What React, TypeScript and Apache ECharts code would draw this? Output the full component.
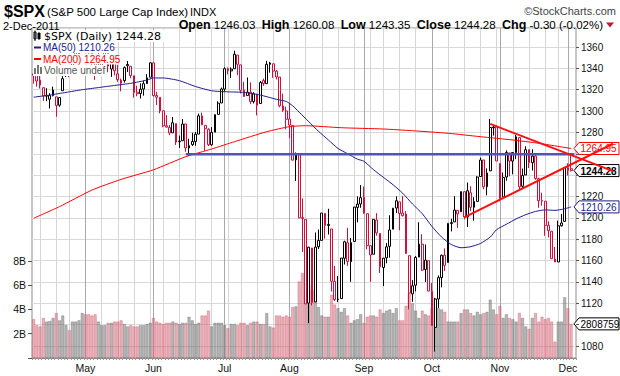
import React, { useEffect, useRef } from "react";
import * as echarts from "echarts";

// ---------- trading days (2011) ----------
const aprDays = [7, 8, 11, 12, 13, 14, 15, 18, 19, 20, 21, 25, 26, 27, 28, 29];
const mayDays = [2, 3, 4, 5, 6, 9, 10, 11, 12, 13, 16, 17, 18, 19, 20, 23, 24, 25, 26, 27, 31];
const junDays = [1, 2, 3, 6, 7, 8, 9, 10, 13, 14, 15, 16, 17, 20, 21, 22, 23, 24, 27, 28, 29, 30];
const julDays = [1, 5, 6, 7, 8, 11, 12, 13, 14, 15, 18, 19, 20, 21, 22, 25, 26, 27, 28, 29];
const augDays = [1, 2, 3, 4, 5, 8, 9, 10, 11, 12, 15, 16, 17, 18, 19, 22, 23, 24, 25, 26, 29, 30, 31];
const sepDays = [1, 2, 6, 7, 8, 9, 12, 13, 14, 15, 16, 19, 20, 21, 22, 23, 26, 27, 28, 29, 30];
const octDays = [3, 4, 5, 6, 7, 10, 11, 12, 13, 14, 17, 18, 19, 20, 21, 24, 25, 26, 27, 28, 31];
const novDays = [1, 2, 3, 4, 7, 8, 9, 10, 11, 14, 15, 16, 17, 18, 21, 22, 23, 25, 28, 29, 30];
const decDays = [1, 2];
const monthNames = ["Jan", "Feb", "Mar", "Apr", "May", "Jun", "Jul", "Aug", "Sep", "Oct", "Nov", "Dec"];

const priorClose = 1335.54;

// ---------- OHLC ----------
const opens = [
  1334.8, 1336.2, 1329.0, 1321.9, 1314.0, 1311.1, 1314.5, 1313.3, 1305.5, 1319.1, 1333.2, 1337.1, 1336.8, 1348.4, 1353.5, 1360.1,
  1365.2, 1360.2, 1355.9, 1344.2, 1340.2, 1340.2, 1348.3, 1354.5, 1339.4, 1348.7, 1334.8, 1326.1, 1328.5, 1342.4, 1342.0, 1333.1, 1317.7, 1316.4, 1320.6, 1325.7, 1331.7,
  1345.2, 1314.6, 1312.9, 1300.3, 1286.3, 1284.6, 1279.6, 1288.3, 1271.3, 1272.2, 1287.9, 1265.5, 1268.6, 1271.5, 1278.4, 1295.5, 1286.6, 1283.0, 1268.4, 1280.2, 1296.9, 1307.6,
  1320.6, 1339.6, 1337.6, 1339.6, 1352.4, 1343.3, 1319.6, 1314.5, 1317.7, 1308.9, 1315.9, 1307.1, 1328.7, 1325.7, 1343.8, 1344.3, 1337.4, 1331.9, 1304.8, 1300.1,
  1292.6, 1286.6, 1254.3, 1260.2, 1200.3, 1198.5, 1120.2, 1171.8, 1121.3, 1172.9, 1178.9, 1204.2, 1192.9, 1189.6, 1140.5, 1123.6, 1124.4, 1162.2, 1176.7, 1158.9, 1177.9, 1209.8, 1213.0,
  1219.1, 1203.9, 1173.97, 1165.9, 1197.98, 1185.4, 1153.5, 1162.6, 1173.3, 1189.4, 1209.2, 1214.99, 1204.5, 1203.6, 1164.6, 1128.8, 1136.9, 1163.3, 1175.4, 1151.7, 1159.9,
  1131.2, 1097.4, 1124.0, 1144.1, 1165.0, 1158.2, 1194.6, 1196.2, 1206.96, 1205.7, 1224.5, 1200.8, 1223.5, 1209.9, 1215.4, 1238.7, 1254.2, 1229.2, 1243.97, 1284.4, 1284.96,
  1251.0, 1219.6, 1238.3, 1260.8, 1253.2, 1261.1, 1275.2, 1229.6, 1240.1, 1263.9, 1251.7, 1257.8, 1236.6, 1216.2, 1215.6, 1192.98, 1187.5, 1161.4, 1158.7, 1192.6, 1196.7,
  1246.9, 1246.03,
];
const highs = [
  1339.4, 1339.5, 1333.8, 1321.9, 1321.4, 1316.8, 1322.9, 1313.3, 1312.7, 1332.7, 1337.5, 1337.6, 1349.6, 1357.5, 1361.7, 1364.6,
  1370.6, 1360.8, 1355.9, 1348.0, 1354.4, 1349.4, 1359.4, 1354.5, 1351.1, 1350.5, 1343.3, 1330.4, 1341.8, 1346.8, 1342.0, 1333.1, 1323.7, 1325.9, 1328.5, 1334.6, 1345.2,
  1345.2, 1318.0, 1312.9, 1300.3, 1296.2, 1287.0, 1294.5, 1288.3, 1277.0, 1292.5, 1287.9, 1274.1, 1279.8, 1280.4, 1297.6, 1298.6, 1286.8, 1283.9, 1284.9, 1296.8, 1309.2, 1322.0,
  1341.0, 1340.9, 1340.9, 1356.5, 1352.4, 1343.3, 1327.4, 1331.5, 1326.9, 1317.7, 1315.9, 1328.1, 1330.4, 1347.0, 1346.1, 1344.3, 1338.5, 1331.9, 1316.3, 1304.2,
  1307.4, 1286.6, 1261.2, 1260.2, 1218.1, 1198.5, 1172.9, 1171.8, 1186.3, 1189.0, 1204.5, 1204.2, 1208.5, 1189.6, 1154.9, 1145.5, 1162.4, 1178.6, 1190.7, 1181.2, 1210.3, 1220.1, 1230.7,
  1229.3, 1203.9, 1173.97, 1198.6, 1204.4, 1185.4, 1162.5, 1176.4, 1202.4, 1209.1, 1220.1, 1214.99, 1220.4, 1206.3, 1164.6, 1141.7, 1164.2, 1195.9, 1184.7, 1175.1, 1159.9,
  1138.99, 1125.1, 1146.1, 1165.6, 1171.4, 1194.9, 1199.2, 1220.3, 1207.5, 1224.6, 1224.5, 1233.1, 1229.6, 1219.4, 1239.0, 1256.5, 1254.2, 1246.3, 1292.7, 1287.1, 1284.96,
  1251.0, 1242.5, 1263.2, 1260.8, 1261.7, 1277.6, 1275.2, 1246.2, 1266.98, 1263.9, 1264.3, 1259.6, 1237.7, 1223.5, 1215.6, 1196.8, 1187.5, 1172.7, 1197.4, 1203.7, 1247.1,
  1251.1, 1260.08,
];
const lows = [
  1325.6, 1322.9, 1321.1, 1309.5, 1309.2, 1302.4, 1313.7, 1294.7, 1304.0, 1319.1, 1332.0, 1331.8, 1336.8, 1344.3, 1353.5, 1358.7,
  1358.6, 1349.5, 1341.5, 1329.2, 1335.6, 1338.6, 1348.3, 1336.4, 1332.0, 1333.4, 1327.3, 1318.5, 1326.6, 1336.6, 1330.7, 1312.6, 1313.9, 1311.8, 1314.4, 1325.7, 1331.7,
  1313.7, 1305.6, 1297.9, 1284.9, 1284.7, 1277.5, 1279.6, 1268.3, 1265.6, 1272.2, 1261.9, 1258.1, 1267.4, 1267.6, 1278.4, 1286.8, 1262.9, 1267.2, 1267.5, 1280.2, 1296.9, 1307.6,
  1318.3, 1334.3, 1330.9, 1339.6, 1333.7, 1316.4, 1313.3, 1314.5, 1306.5, 1307.1, 1295.9, 1307.1, 1323.6, 1325.7, 1336.0, 1331.1, 1329.6, 1303.5, 1299.2, 1282.9,
  1274.7, 1254.0, 1234.6, 1199.5, 1168.1, 1119.3, 1101.5, 1118.0, 1121.3, 1170.7, 1178.9, 1180.5, 1184.4, 1131.0, 1122.1, 1121.1, 1124.4, 1156.3, 1155.1, 1140.1, 1177.9, 1195.8, 1209.4,
  1203.9, 1170.6, 1140.1, 1165.9, 1183.3, 1148.4, 1136.1, 1157.4, 1162.7, 1189.4, 1204.5, 1188.4, 1201.3, 1166.2, 1114.2, 1121.4, 1131.1, 1163.3, 1150.3, 1139.9, 1131.3,
  1098.9, 1074.8, 1115.7, 1134.9, 1150.3, 1158.2, 1187.3, 1196.2, 1190.6, 1205.7, 1198.6, 1191.5, 1206.3, 1197.3, 1215.4, 1238.7, 1226.8, 1221.1, 1243.97, 1277.0, 1253.2,
  1215.4, 1219.6, 1234.8, 1238.9, 1240.8, 1254.99, 1226.6, 1227.7, 1240.1, 1246.7, 1244.3, 1235.7, 1209.4, 1211.4, 1183.2, 1181.7, 1161.8, 1158.7, 1158.7, 1191.8, 1196.7,
  1239.7, 1243.35,
];
const closes = [
  1333.51, 1328.17, 1324.46, 1314.16, 1314.41, 1314.52, 1319.68, 1305.14, 1312.62, 1330.36, 1337.38, 1335.25, 1347.24, 1355.66, 1360.48, 1363.61,
  1361.22, 1356.62, 1347.32, 1335.1, 1340.2, 1346.29, 1357.16, 1342.08, 1348.65, 1337.77, 1329.47, 1328.98, 1340.68, 1343.6, 1333.27, 1317.37, 1316.28, 1320.47, 1325.69, 1331.1, 1345.2,
  1314.55, 1312.94, 1300.16, 1286.17, 1284.94, 1279.56, 1289.0, 1270.98, 1271.83, 1287.87, 1265.42, 1267.64, 1271.5, 1278.36, 1295.52, 1287.14, 1283.5, 1268.45, 1280.1, 1296.67, 1307.41, 1320.64,
  1339.67, 1337.88, 1339.22, 1353.22, 1343.8, 1319.49, 1313.64, 1317.72, 1308.87, 1316.14, 1305.44, 1326.73, 1325.84, 1343.8, 1345.02, 1337.43, 1331.94, 1304.89, 1300.67, 1292.28,
  1286.94, 1254.05, 1260.34, 1200.07, 1199.38, 1119.46, 1172.53, 1120.76, 1172.64, 1178.81, 1204.49, 1192.76, 1193.89, 1140.65, 1123.53, 1123.82, 1162.35, 1177.6, 1159.27, 1176.8, 1210.08, 1212.92, 1218.89,
  1204.42, 1173.97, 1165.24, 1198.62, 1185.9, 1154.23, 1162.27, 1172.87, 1188.68, 1209.11, 1216.01, 1204.09, 1202.09, 1166.76, 1129.56, 1136.43, 1162.95, 1175.38, 1151.06, 1160.4, 1131.42,
  1099.23, 1123.95, 1144.03, 1164.97, 1155.46, 1194.89, 1195.54, 1207.25, 1203.66, 1224.58, 1200.86, 1225.38, 1209.88, 1215.39, 1238.25, 1254.19, 1229.05, 1242.0, 1284.59, 1285.09, 1253.3,
  1218.28, 1237.9, 1261.15, 1253.23, 1261.12, 1275.92, 1229.1, 1239.7, 1263.85, 1251.78, 1257.81, 1236.91, 1216.13, 1215.65, 1192.98, 1188.04, 1161.79, 1158.67, 1192.55, 1195.19, 1246.96,
  1244.58, 1244.28,
];

// ---------- volume (billions) ----------
const volumes = [
  3.2, 2.7, 2.6, 3.3, 3.0, 3.05, 3.3, 3.7, 3.1, 3.5, 2.7, 2.3, 3.0, 3.0, 3.1, 3.7,
  3.6, 3.6, 3.5, 3.6, 3.0, 2.7, 2.7, 2.9, 2.9, 3.0, 3.0, 3.1, 2.8, 2.6, 2.7, 2.6, 2.6, 2.7, 2.7, 2.8, 2.9,
  3.3, 3.0, 2.9, 2.8, 2.9, 2.9, 3.0, 2.9, 2.8, 2.9, 2.9, 3.4, 3.1, 2.8, 2.9, 3.5, 3.5, 3.9, 2.6, 2.9, 2.9, 2.9,
  2.7, 2.45, 2.8, 2.8, 2.7, 2.9, 2.9, 2.7, 2.9, 3.0, 3.0, 2.8, 2.8, 3.7, 2.6, 2.5, 3.5, 3.5, 3.4, 3.5,
  3.4, 4.2, 4.25, 6.3, 7.0, 6.8, 6.0, 5.6, 5.4, 4.2, 3.5, 3.4, 3.4, 5.2, 4.4, 4.1, 3.8, 4.1, 3.5, 2.9, 3.1, 3.2, 3.6,
  2.9, 3.4, 3.5, 3.5, 3.4, 4.0, 3.7, 3.9, 4.0, 3.7, 4.1, 3.1, 3.1, 4.3, 5.3, 4.5, 3.9, 3.3, 3.9, 3.6, 3.5,
  4.1, 4.9, 4.1, 4.0, 3.8, 3.0, 3.0, 3.0, 3.0, 3.7, 4.0, 4.0, 3.7, 3.5, 3.8, 3.6, 3.7, 3.8, 4.8, 4.0, 3.6,
  4.3, 3.3, 3.6, 3.3, 3.2, 3.0, 3.7, 3.3, 2.6, 2.4, 3.3, 3.7, 3.0, 3.4, 3.2, 3.3, 3.0, 1.35, 3.0, 3.0, 5.0,
  4.1, 2.808759,
];

// ---------- moving averages ----------
const ma50Points: [string, number][] = [
  ["2011-04-07", 1313], ["2011-04-14", 1315], ["2011-04-21", 1317.5], ["2011-04-29", 1320], ["2011-05-06", 1322],
  ["2011-05-13", 1324], ["2011-05-20", 1326], ["2011-05-27", 1329], ["2011-06-01", 1331], ["2011-06-06", 1331],
  ["2011-06-13", 1328.5], ["2011-06-20", 1323], ["2011-06-27", 1319], ["2011-07-05", 1318], ["2011-07-12", 1317.5],
  ["2011-07-19", 1315], ["2011-07-26", 1311], ["2011-07-29", 1309], ["2011-08-02", 1305], ["2011-08-04", 1299],
  ["2011-08-09", 1290], ["2011-08-12", 1281], ["2011-08-17", 1273], ["2011-08-22", 1265], ["2011-08-25", 1260],
  ["2011-08-30", 1255], ["2011-09-01", 1253], ["2011-09-07", 1245], ["2011-09-12", 1238], ["2011-09-15", 1231],
  ["2011-09-20", 1223], ["2011-09-23", 1213], ["2011-09-28", 1204], ["2011-10-03", 1192], ["2011-10-06", 1182],
  ["2011-10-11", 1175], ["2011-10-14", 1172], ["2011-10-19", 1173], ["2011-10-24", 1176], ["2011-10-27", 1182],
  ["2011-10-31", 1189], ["2011-11-03", 1194], ["2011-11-08", 1199], ["2011-11-11", 1203], ["2011-11-16", 1206],
  ["2011-11-21", 1207.5], ["2011-11-25", 1207], ["2011-11-30", 1208.5], ["2011-12-02", 1210.26],
];
const ma200Points: [string, number][] = [
  ["2011-04-07", 1199.6], ["2011-04-19", 1210.5], ["2011-05-04", 1226], ["2011-05-17", 1236], ["2011-06-01", 1245],
  ["2011-06-15", 1257.3], ["2011-06-27", 1264.5], ["2011-07-07", 1271.3], ["2011-07-21", 1280.7], ["2011-08-01", 1285.4],
  ["2011-08-08", 1286.3], ["2011-08-23", 1284.4], ["2011-09-12", 1283.2], ["2011-09-23", 1281.6], ["2011-10-10", 1279.2],
  ["2011-10-24", 1276], ["2011-11-07", 1272.9], ["2011-11-17", 1269.8], ["2011-12-02", 1264.95],
];

// ---------- annotations ----------
const supportLevel = 1259.6;
const supportStart = "2011-06-15";
const upperTrend: [string, number][] = [["2011-10-27", 1288.0], ["2011-12-02", 1258.8]];
const lowerTrend: [string, number][] = [["2011-10-17", 1200.5], ["2011-12-02", 1250.0]];
const trendEndX = 613;

const priceTicks = { top: 1360, bottom: 1080, topY: 47, bottomY: 346 };

const RED = "#d20f3c";
const BLACK = "#000000";
const FONT = "'Liberation Sans', Arial, sans-serif";

export default function App() {
  const ref = useRef<HTMLDivElement>(null);

  useEffect(() => {
    const chart = echarts.init(ref.current!, null, { renderer: "svg" });

    const dates: string[] = [];
    const monthDays: [number, number[]][] = [
      [4, aprDays], [5, mayDays], [6, junDays], [7, julDays], [8, augDays],
      [9, sepDays], [10, octDays], [11, novDays], [12, decDays],
    ];
    monthDays.forEach(([m, days]) =>
      days.forEach((d) => dates.push(`2011-${String(m).padStart(2, "0")}-${String(d).padStart(2, "0")}`))
    );
    const n = dates.length;
    const last = n - 1;
    const categories = [...dates, " "];

    const plotTop = 28;
    const plotBottom = 358;
    const volPxPerB = 12.15;
    const pxPerUnit = (priceTicks.bottomY - priceTicks.topY) / (priceTicks.top - priceTicks.bottom);
    const yMax = priceTicks.top + (priceTicks.topY - plotTop) / pxPerUnit;
    const yMin = priceTicks.bottom - (plotBottom - priceTicks.bottomY) / pxPerUnit;

    const ma50Last = ma50Points[ma50Points.length - 1][1];
    const ma200Last = ma200Points[ma200Points.length - 1][1];
    const volTagPrice = yMin + (volumes[last] * volPxPerB) / pxPerUnit;
    const tagPrices = [ma200Last, closes[last], ma50Last, volTagPrice];

    const isDown = (i: number) => closes[i] < (i === 0 ? priorClose : closes[i - 1]);

    const candleData = dates.map((d, i) => {
      const c = isDown(i) ? RED : BLACK;
      return {
        value: [opens[i], closes[i], lows[i], highs[i]],
        itemStyle: { color: "#ffffff", borderColor: c, color0: c, borderColor0: c, borderColorDoji: c },
      };
    });

    const volData = volumes.map((v, i) => {
      const down = isDown(i);
      return {
        value: v,
        itemStyle: {
          color: down ? "rgba(214,100,118,0.5)" : "rgba(112,112,112,0.5)",
          borderColor: down ? "rgba(200,70,90,0.55)" : "rgba(85,85,85,0.55)",
          borderWidth: 0.6,
        },
      };
    });

    const gridLines: any[] = [];
    dates.forEach((d, i) => {
      if (i === 0) return;
      const cur = new Date(d + "T00:00:00Z");
      const prev = new Date(dates[i - 1] + "T00:00:00Z");
      const newMonth = cur.getUTCMonth() !== prev.getUTCMonth();
      const newWeek = cur.getUTCDay() <= prev.getUTCDay() || cur.getTime() - prev.getTime() > 4 * 86400000;
      if (newMonth) gridLines.push({ xAxis: d, lineStyle: { color: "#a9a9a9" } });
      else if (newWeek) gridLines.push({ xAxis: d, lineStyle: { color: "#d6d6d6" } });
    });

    const monthStart = (idx: number) =>
      idx > 0 && idx < n && dates[idx].slice(5, 7) !== dates[idx - 1].slice(5, 7);

    const option: any = {
      animation: false,
      backgroundColor: "#ffffff",
      grid: [
        { left: 32, right: 44, top: plotTop, bottom: 376 - plotBottom, show: true, borderColor: "#8c8c8c", borderWidth: 1, backgroundColor: "transparent" },
        { left: 32, right: 44, top: plotBottom - 8 * volPxPerB, bottom: 376 - plotBottom },
      ],
      xAxis: [
        {
          type: "category", gridIndex: 0, data: categories, boundaryGap: true,
          axisLine: { show: true, lineStyle: { color: "#8c8c8c" } },
          axisTick: { show: true, interval: 0, length: 2, lineStyle: { color: "#9a9a9a" } },
          axisLabel: {
            interval: (idx: number) => monthStart(idx),
            formatter: (v: string) => (v.length > 5 ? monthNames[Number(v.slice(5, 7)) - 1] : ""),
            color: "#111", fontSize: 10.5, fontFamily: FONT, margin: 4,
          },
          splitLine: { show: false },
        },
        { type: "category", gridIndex: 1, data: categories, boundaryGap: true, show: false },
      ],
      yAxis: [
        {
          type: "value", gridIndex: 0, position: "right", min: yMin, max: yMax, splitNumber: 15,
          axisLine: { show: false },
          axisTick: { show: true, length: 3, lineStyle: { color: "#555" } },
          axisLabel: {
            showMinLabel: false, showMaxLabel: false, margin: 5, color: "#111", fontSize: 10, fontFamily: FONT,
            formatter: (v: number) =>
              tagPrices.some((t) => Math.abs(v - t) * pxPerUnit < 9.5) ? "" : String(Math.round(v)),
          },
          splitLine: { show: true, lineStyle: { color: "#d9d9d9" } },
        },
        {
          type: "value", gridIndex: 1, position: "left", min: 0, max: 8, interval: 2,
          axisLine: { show: false },
          axisTick: { show: true, length: 4, lineStyle: { color: "#555" } },
          axisLabel: { formatter: (v: number) => (v === 0 ? "" : v + "B"), margin: 6, color: "#111", fontSize: 10.5, fontFamily: FONT },
          splitLine: { show: false },
        },
      ],
      series: [
        {
          name: "grid", type: "line", xAxisIndex: 0, yAxisIndex: 0, data: [], silent: true,
          markLine: { silent: true, z: 0, symbol: ["none", "none"], label: { show: false }, lineStyle: { type: "solid", width: 1 }, data: gridLines },
        },
        { name: "volume", type: "bar", xAxisIndex: 1, yAxisIndex: 1, data: volData, barWidth: "92%", z: 1, silent: true },
        {
          name: "candles", type: "candlestick", xAxisIndex: 0, yAxisIndex: 0, data: candleData, barWidth: 2.3, z: 3, silent: true,
        },
        {
          name: "MA(200)", type: "line", xAxisIndex: 0, yAxisIndex: 0, data: ma200Points, showSymbol: false, smooth: 0.2,
          lineStyle: { color: "#ff0000", width: 1 }, z: 4, silent: true,
        },
        {
          name: "MA(50)", type: "line", xAxisIndex: 0, yAxisIndex: 0, data: ma50Points, showSymbol: false, smooth: 0.2,
          lineStyle: { color: "#1c1c8c", width: 1 }, z: 4, silent: true,
        },
        {
          name: "support", type: "line", xAxisIndex: 0, yAxisIndex: 0,
          data: [[dates.indexOf(supportStart), supportLevel], [n, supportLevel]],
          showSymbol: false, lineStyle: { color: "#5353b3", width: 2.5 }, z: 5, silent: true,
        },
      ],
    };

    chart.setOption(option);

    const toPx = (d: string, v: number) =>
      chart.convertToPixel({ gridIndex: 0 }, [dates.indexOf(d), v]) as number[];
    const trendLine = (pts: [string, number][]) => {
      const a = toPx(pts[0][0], pts[0][1]);
      const b = toPx(pts[1][0], pts[1][1]);
      const y2 = a[1] + ((b[1] - a[1]) * (trendEndX - a[0])) / (b[0] - a[0]);
      return {
        type: "line", z: 50, silent: true,
        shape: { x1: a[0], y1: a[1], x2: trendEndX, y2 },
        style: { stroke: "#ff1010", lineWidth: 2 },
      };
    };

    const priceY = (v: number) => chart.convertToPixel({ yAxisIndex: 0 }, v) as number;
    const volY = (v: number) => chart.convertToPixel({ yAxisIndex: 1 }, v) as number;

    const tag = (y: number, text: string, color: string, bold = false) => ({
      type: "group", z: 60, silent: true,
      children: [
        {
          type: "polygon",
          shape: { points: [[574, y], [579, y - 6], [619, y - 6], [619, y + 6], [579, y + 6]] },
          style: { fill: "#ffffff", stroke: color, lineWidth: 1 },
        },
        {
          type: "text", x: 580.5, y: y + 0.5,
          style: { text, fill: bold ? "#000" : color, font: `${bold ? "bold " : ""}10px ${FONT}`, verticalAlign: "middle", align: "left" },
        },
      ],
    });

    const chg = closes[last] - closes[last - 1];
    const pct = (chg / closes[last - 1]) * 100;
    const d = new Date(dates[last] + "T00:00:00Z");
    const dateLabel = `${d.getUTCDate()}-${monthNames[d.getUTCMonth()]}-${d.getUTCFullYear()}`;

    const legendY = [36, 47.5, 59, 70.5];

    chart.setOption({
      graphic: [
        // header
        { type: "text", x: 4, y: 11, style: { text: "$SPX", font: `bold 16px ${FONT}`, fill: "#000", verticalAlign: "middle" } },
        { type: "text", x: 47, y: 12, style: { text: "(S&P 500 Large Cap Index)", font: `11.5px ${FONT}`, fill: "#000", verticalAlign: "middle" } },
        { type: "text", x: 190, y: 12, style: { text: "INDX", font: `11px ${FONT}`, fill: "#000", verticalAlign: "middle" } },
        { type: "text", x: 616, y: 11, style: { text: "©StockCharts.com", font: `11px ${FONT}`, fill: "#444", align: "right", verticalAlign: "middle" } },
        { type: "text", x: 3, y: 25.5, style: { text: dateLabel, font: `11px ${FONT}`, fill: "#000", verticalAlign: "middle" } },
        {
          type: "text", x: 603, y: 25,
          style: {
            text:
              `{b|Open} {n|${opens[last].toFixed(2)}}  {b|High} {n|${highs[last].toFixed(2)}}  {b|Low} {n|${lows[last].toFixed(2)}}  ` +
              `{b|Close} {n|${closes[last].toFixed(2)}}  {b|Chg} {n|${chg.toFixed(2)} (${pct.toFixed(2)}%)}`,
            align: "right", verticalAlign: "middle",
            rich: {
              b: { font: `bold 12.5px ${FONT}`, fill: "#000" },
              n: { font: `11.5px ${FONT}`, fill: "#000" },
            },
            font: `11.5px ${FONT}`,
          },
        },
        { type: "polygon", shape: { points: [[606, 22.5], [614, 22.5], [610, 27.5]] }, style: { fill: "#cc1133" } },

        // legend
        { type: "rect", shape: { x: 33, y: 30, width: 135, height: 12 }, style: { fill: "#fff" }, z: 40 },
        { type: "rect", shape: { x: 34, y: 32, width: 2, height: 7 }, style: { fill: "#fff", stroke: "#000", lineWidth: 1 }, z: 41 },
        { type: "line", shape: { x1: 35, y1: 30.5, x2: 35, y2: 41 }, style: { stroke: "#000", lineWidth: 1 }, z: 41 },
        { type: "rect", shape: { x: 38, y: 33, width: 2, height: 6 }, style: { fill: "#000", stroke: "#000", lineWidth: 1 }, z: 41 },
        { type: "text", x: 44, y: legendY[0], z: 42, style: { text: `$SPX (Daily) ${closes[last].toFixed(2)}`, font: `11px 'DejaVu Sans', sans-serif`, fill: "#000", verticalAlign: "middle" } },

        { type: "rect", shape: { x: 33, y: 42, width: 80, height: 11 }, style: { fill: "#fff" }, z: 40 },
        { type: "line", shape: { x1: 34, y1: legendY[1], x2: 41, y2: legendY[1] }, style: { stroke: "#1c1c8c", lineWidth: 2 }, z: 41 },
        { type: "text", x: 43, y: legendY[1], z: 42, style: { text: `MA(50) ${ma50Last.toFixed(2)}`, font: `10px ${FONT}`, fill: "#1c1c8c", verticalAlign: "middle" } },

        { type: "rect", shape: { x: 33, y: 53.5, width: 84, height: 11 }, style: { fill: "#fff" }, z: 40 },
        { type: "line", shape: { x1: 34, y1: legendY[2], x2: 41, y2: legendY[2] }, style: { stroke: "#ff0000", lineWidth: 2 }, z: 41 },
        { type: "text", x: 43, y: legendY[2], z: 42, style: { text: `MA(200) ${ma200Last.toFixed(2)}`, font: `10px ${FONT}`, fill: "#ff0000", verticalAlign: "middle" } },

        { type: "rect", shape: { x: 33, y: 65, width: 70, height: 11 }, style: { fill: "#fff" }, z: 40 },
        { type: "rect", shape: { x: 34, y: 68, width: 2, height: 6 }, style: { fill: "#777" }, z: 41 },
        { type: "rect", shape: { x: 37, y: 65, width: 2, height: 9 }, style: { fill: "#777" }, z: 41 },
        { type: "rect", shape: { x: 40, y: 67, width: 2, height: 7 }, style: { fill: "#777" }, z: 41 },
        { type: "text", x: 44, y: legendY[3], z: 42, style: { text: "Volume undef", font: `10px ${FONT}`, fill: "#555", verticalAlign: "middle" } },

        // trend lines
        trendLine(upperTrend),
        trendLine(lowerTrend),

        // value tags on the right
        tag(priceY(ma200Last), ma200Last.toFixed(2), "#ff0000"),
        tag(priceY(closes[last]), closes[last].toFixed(2), "#000", true),
        tag(priceY(ma50Last), ma50Last.toFixed(2), "#1c1c8c"),
        tag(volY(volumes[last]), String(Math.round(volumes[last] * 1e6)), "#000"),
      ],
    });

    return () => chart.dispose();
  }, []);

  return <div ref={ref} style={{ position: "absolute", left: 0, top: 0, width: 620, height: 376 }} />;
}
